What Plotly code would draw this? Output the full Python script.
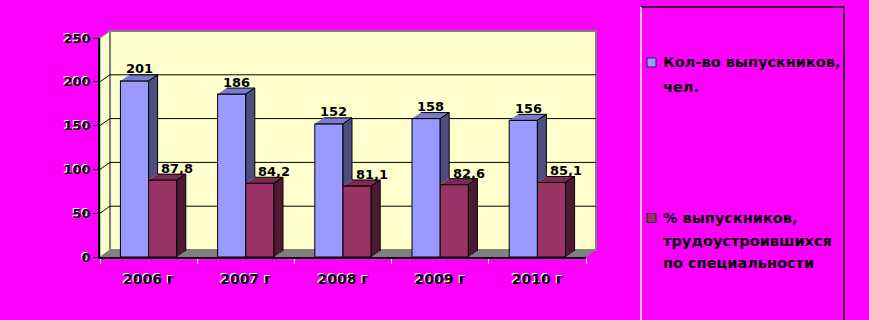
import plotly.graph_objects as go

# ---------------- data ----------------
categories = ["2006 г", "2007 г", "2008 г", "2009 г", "2010 г"]
graduates = [201, 186, 152, 158, 156]
employed_pct = [87.8, 84.2, 81.1, 82.6, 85.1]
y_ticks = [0, 50, 100, 150, 200, 250]
legend_lines_1 = ["Кол-во выпускников,", "чел."]
legend_lines_2 = ["% выпускников,", "трудоустроившихся", "по специальности"]

# ---------------- geometry / style ----------------
W, H = 869, 320
L, R, T, B = 100, 283, 38, 63
PW, PH = W - L - R, H - T - B
YMAX = 250
N = len(categories)
PXX = PW / N          # pixels per category unit
PXY = PH / YMAX       # pixels per value unit

BAR_W = 0.29
BDX, BDY = 9 / PXX, 6 / PXY      # bar depth in data units
WDX, WDY = 10, 7                  # wall depth in pixels

BLUE = dict(front="#9999FF", top="#7B7BCC", side="#4D4D80")
RED = dict(front="#993366", top="#7A2952", side="#4D1A33")
WALL = "#FFFFCC"
FLOOR = "#808080"
BG = "#FF00FF"
FONT = "DejaVu Sans"


def pxp(x):  # pixel x -> paper
    return (x - L) / PW


def pyp(y):  # pixel y -> paper
    return (H - B - y) / PH


fig = go.Figure()

# front faces
fig.add_trace(go.Bar(x=list(range(N)), y=graduates, offset=-BAR_W, width=BAR_W,
                     marker=dict(color=BLUE["front"], line=dict(color="black", width=1)),
                     name=" ".join(legend_lines_1), hoverinfo="skip", showlegend=False))
fig.add_trace(go.Bar(x=list(range(N)), y=employed_pct, offset=0, width=BAR_W,
                     marker=dict(color=RED["front"], line=dict(color="black", width=1)),
                     name=" ".join(legend_lines_2), hoverinfo="skip", showlegend=False))


def poly_trace(polys, color):
    xs, ys = [], []
    for p in polys:
        for (a, b) in p:
            xs.append(a)
            ys.append(b)
        xs.append(None)
        ys.append(None)
    return go.Scatter(x=xs, y=ys, mode="lines", fill="toself", fillcolor=color,
                      line=dict(color="black", width=1), hoverinfo="skip", showlegend=False)


blue_top, blue_side, red_top, red_side = [], [], [], []
for i in range(N):
    b, r = graduates[i], employed_pct[i]
    x0, x1, x2 = i - BAR_W, i, i + BAR_W
    blue_top.append([(x0, b), (x1, b), (x1 + BDX, b + BDY), (x0 + BDX, b + BDY)])
    blue_side.append([(x1, r), (x1, b), (x1 + BDX, b + BDY), (x1 + BDX, r + BDY)])
    red_top.append([(x1, r), (x2, r), (x2 + BDX, r + BDY), (x1 + BDX, r + BDY)])
    red_side.append([(x2, 0), (x2, r), (x2 + BDX, r + BDY), (x2 + BDX, BDY)])

fig.add_trace(poly_trace(blue_top, BLUE["top"]))
fig.add_trace(poly_trace(blue_side, BLUE["side"]))
fig.add_trace(poly_trace(red_top, RED["top"]))
fig.add_trace(poly_trace(red_side, RED["side"]))

# ---------------- walls, floor, gridlines ----------------
shapes = []
x_front_l, x_front_r = L, L + PW
y_floor, y_top = H - B, T
shapes.append(dict(type="path", xref="paper", yref="paper", layer="below",
                   path=f"M{pxp(x_front_l)},{pyp(y_floor)} L{pxp(x_front_l)},{pyp(y_top)} "
                        f"L{pxp(x_front_l + WDX)},{pyp(y_top - WDY)} L{pxp(x_front_l + WDX)},{pyp(y_floor - WDY)} Z",
                   fillcolor=WALL, line=dict(color="#808080", width=1)))
shapes.append(dict(type="rect", xref="paper", yref="paper", layer="below",
                   x0=pxp(x_front_l + WDX), x1=pxp(x_front_r + WDX),
                   y0=pyp(y_floor - WDY), y1=pyp(y_top - WDY),
                   fillcolor=WALL, line=dict(color="#808080", width=2)))
shapes.append(dict(type="path", xref="paper", yref="paper", layer="below",
                   path=f"M{pxp(x_front_l)},{pyp(y_floor)} L{pxp(x_front_r)},{pyp(y_floor)} "
                        f"L{pxp(x_front_r + WDX)},{pyp(y_floor - WDY)} L{pxp(x_front_l + WDX)},{pyp(y_floor - WDY)} Z",
                   fillcolor=FLOOR, line=dict(width=0)))
# faint dotted minor lines on the back wall
for k in range(1, 20):
    v = k * 12.5
    if v % 50 == 0:
        continue
    yp = v / YMAX + WDY / PH
    shapes.append(dict(type="line", xref="paper", yref="paper", layer="below",
                       x0=pxp(x_front_l + WDX + 2), x1=pxp(x_front_r + WDX - 2), y0=yp, y1=yp,
                       line=dict(color="rgba(255,255,255,0.9)", width=1, dash="dot")))
for v in y_ticks[1:-1]:
    yp = v / YMAX
    shapes.append(dict(type="line", xref="paper", yref="paper", layer="below",
                       x0=pxp(x_front_l + WDX), x1=pxp(x_front_r + WDX),
                       y0=yp + WDY / PH, y1=yp + WDY / PH, line=dict(color="black", width=1)))
    shapes.append(dict(type="line", xref="paper", yref="paper", layer="below",
                       x0=0, x1=pxp(x_front_l + WDX), y0=yp, y1=yp + WDY / PH,
                       line=dict(color="black", width=1)))

# legend frame
lg_l, lg_r, lg_t = 641, 844, 7
shapes.append(dict(type="line", xref="paper", yref="paper", x0=pxp(lg_l), x1=pxp(lg_r),
                   y0=pyp(lg_t), y1=pyp(lg_t), line=dict(color="black", width=1.5)))
shapes.append(dict(type="line", xref="paper", yref="paper", x0=pxp(lg_r), x1=pxp(lg_r),
                   y0=pyp(lg_t), y1=pyp(340), line=dict(color="black", width=1.5)))
shapes.append(dict(type="line", xref="paper", yref="paper", x0=pxp(lg_l), x1=pxp(lg_l),
                   y0=pyp(lg_t), y1=pyp(340), line=dict(color="white", width=1.5)))

annotations = []
# legend items
for color, lines, ys in [(BLUE["front"], legend_lines_1, [62.5, 87]),
                         (RED["front"], legend_lines_2, [218, 241, 263])]:
    shapes.append(dict(type="rect", xref="paper", yref="paper",
                       x0=pxp(647), x1=pxp(656), y0=pyp(ys[0] + 4.5), y1=pyp(ys[0] - 4.5),
                       fillcolor=color, line=dict(color="#202040", width=1)))
    for txt, yy in zip(lines, ys):
        annotations.append(dict(xref="paper", yref="paper", x=pxp(661), y=pyp(yy),
                                xanchor="left", yanchor="middle", showarrow=False, text=txt,
                                font=dict(family=FONT, size=14.5, color="black", weight=700)))

# data labels
for i in range(N):
    annotations.append(dict(x=i - BAR_W / 2 + 4.7 / PXX, y=graduates[i], yshift=12,
                            xanchor="center", yanchor="middle", showarrow=False,
                            text=f"{graduates[i]}",
                            font=dict(family=FONT, size=13, color="black", weight=700)))
    annotations.append(dict(x=i + BAR_W / 2 + 14.5 / PXX, y=employed_pct[i], yshift=11.5,
                            xanchor="center", yanchor="middle", showarrow=False,
                            text=f"{employed_pct[i]:.1f}".replace(".", ","),
                            font=dict(family=FONT, size=13, color="black", weight=700)))

fig.update_layout(
    width=W, height=H, autosize=False,
    margin=dict(l=L, r=R, t=T, b=B, pad=0),
    paper_bgcolor=BG, plot_bgcolor="rgba(0,0,0,0)",
    barmode="overlay", showlegend=False,
    shapes=shapes, annotations=annotations,
    xaxis=dict(range=[-0.5, N - 0.5], tickmode="array", tickvals=list(range(N)), ticktext=categories,
               ticks="", showgrid=False, zeroline=False, showline=True, linecolor="black", linewidth=2,
               ticklabelstandoff=8,
               tickfont=dict(family=FONT, size=14, color="black", weight=700, shadow="-1px -1px 0px white"),
               minor=dict(tickmode="array", tickvals=[k - 0.5 for k in range(N + 1)], ticks="outside",
                          ticklen=5, tickcolor="white", tickwidth=1, showgrid=False),
               fixedrange=True),
    yaxis=dict(range=[0, YMAX], tickmode="array", tickvals=y_ticks, ticks="outside", ticklen=5,
               tickcolor="black", tickwidth=1, showgrid=False, zeroline=False, showline=True,
               linecolor="black", linewidth=1.5,
               tickfont=dict(family=FONT, size=13, color="black", weight=700, shadow="-1px -1px 0px white"),
               fixedrange=True),
)

fig.write_html("out.html", include_plotlyjs=True, config={"displayModeBar": False})
